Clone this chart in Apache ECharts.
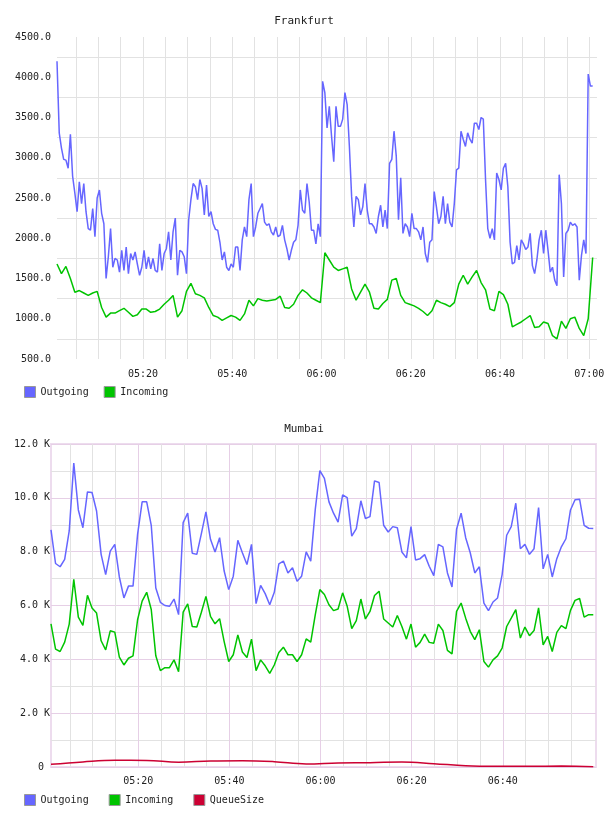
<!DOCTYPE html>
<html>
<head>
<meta charset="utf-8">
<script src="https://cdn.jsdelivr.net/npm/echarts@6/dist/echarts.min.js"></script>
<style>
  html, body { margin: 0; padding: 0; background: #fff; }
  #chart { width: 608px; height: 816px; }
</style>
</head>
<body>
<div id="chart"></div>
<script>
// x values are minutes after 05:00
const fraStart = 0.75;
const fraOutStep = 0.5;
const fraInStep = 1;

const fraOutgoing = [
  4200, 3310, 3120, 2980, 2970, 2870, 3290, 2770, 2560, 2330,
  2700, 2430, 2680, 2330, 2120, 2100, 2370, 2020, 2500, 2600,
  2310, 2180, 1500, 1770, 2120, 1640, 1750, 1730, 1580, 1850,
  1600, 1890, 1560, 1810, 1730, 1830, 1680, 1540, 1640, 1850,
  1620, 1770, 1620, 1750, 1600, 1580, 1930, 1600, 1810, 1870,
  2080, 1730, 2080, 2250, 1540, 1850, 1830, 1770, 1560, 2230,
  2480, 2680, 2640, 2480, 2730, 2620, 2290, 2660, 2270, 2330,
  2180, 2110, 2100, 1950, 1730, 1830, 1640, 1600, 1680, 1640,
  1890, 1890, 1600, 1980, 2140, 2020, 2480, 2680, 2020, 2140,
  2310, 2370, 2430, 2200, 2160, 2180, 2080, 2040, 2140, 2020,
  2040, 2160, 1980, 1870, 1730, 1850, 1950, 1980, 2160, 2600,
  2350, 2310, 2680, 2450, 2100, 2100, 1930, 2180, 2020, 3950,
  3810, 3370, 3640, 3270, 2950, 3640, 3390, 3390, 3480, 3810,
  3660, 3140, 2520, 2140, 2520, 2480, 2290, 2390, 2680, 2350,
  2180, 2180, 2140, 2060, 2270, 2410, 2140, 2350, 2120, 2930,
  2980, 3330, 3020, 2230, 2750, 2060, 2180, 2140, 2020, 2310,
  2120, 2120, 2080, 1980, 2140, 1810, 1700, 1950, 1980, 2580,
  2390, 2180, 2270, 2520, 2180, 2430, 2200, 2140, 2430, 2850,
  2870, 3330, 3230, 3140, 3310, 3230, 3180, 3430, 3430, 3350,
  3500, 3480, 2730, 2120, 2000, 2120, 1980, 2810, 2730, 2600,
  2870, 2930, 2640, 1950, 1680, 1700, 1910, 1730, 1980, 1930,
  1860, 1890, 2060, 1660, 1560, 1730, 1980, 2100, 1810, 2100,
  1850, 1580, 1640, 1480, 1410, 2790, 2430, 1520, 2060, 2100,
  2200, 2160, 2180, 2140, 1480, 1790, 1980, 1810, 4040, 3890,
  3890
];

const fraIncoming = [
  1680, 1560, 1650, 1500, 1330, 1350, 1320, 1290, 1320, 1340,
  1140, 1020, 1070, 1070, 1100, 1130, 1080, 1030, 1050, 1120,
  1120, 1080, 1090, 1120, 1180, 1230, 1290, 1020, 1100, 1340,
  1440, 1310, 1290, 1260, 1140, 1040, 1020, 980, 1010, 1040,
  1020, 980, 1060, 1230, 1160, 1250, 1230, 1220, 1230, 1240,
  1280, 1140, 1130, 1180, 1290, 1360, 1320, 1260, 1230, 1200,
  1820, 1730, 1640, 1600, 1620, 1640, 1370, 1230, 1330, 1430,
  1330, 1130, 1120, 1190, 1240, 1480, 1500, 1290, 1200, 1180,
  1160, 1130, 1090, 1040, 1100, 1230, 1200, 1180, 1150, 1200,
  1430, 1540, 1430, 1520, 1600, 1450, 1360, 1120, 1100, 1340,
  1300, 1180, 900, 930, 960, 1000, 1040, 890, 900, 960,
  940, 790, 750, 970, 880, 1000, 1020, 880, 790, 1000,
  1760
];

const fraYLabels = [500, 1000, 1500, 2000, 2500, 3000, 3500, 4000, 4500];
const fraYGrid = [750, 1250, 1750, 2250, 2750, 3250, 3750, 4250];
const fraXLabels = [20, 40, 60, 80, 100, 120];
const fraXGrid = [5, 10, 15, 20, 25, 30, 35, 40, 45, 50, 55, 60, 65, 70, 75, 80, 85, 90, 95, 100, 105, 110, 115, 120];

// Mumbai, values in K
const mumStart = 0.85;
const mumStep = 1;
const mumOutgoing = [
  8.81, 7.56, 7.44, 7.71, 8.77, 11.29, 9.55, 8.89, 10.22, 10.2,
  9.51, 7.9, 7.15, 8.02, 8.27, 7.06, 6.28, 6.72, 6.72, 8.64,
  9.85, 9.85, 8.98, 6.65, 6.12, 6.0, 5.97, 6.24, 5.66, 9.08,
  9.43, 7.94, 7.9, 8.67, 9.48, 8.46, 7.99, 8.52, 7.28, 6.59,
  7.09, 8.42, 7.96, 7.52, 8.27, 6.07, 6.75, 6.44, 6.03, 6.49,
  7.55, 7.65, 7.21, 7.4, 6.9, 7.09, 7.99, 7.65, 9.58, 11.01,
  10.72, 9.85, 9.43, 9.1, 10.11, 10.01, 8.58, 8.86, 9.89, 9.23,
  9.3, 10.63, 10.57, 8.98, 8.73, 8.93, 8.89, 7.99, 7.77, 8.93,
  7.69, 7.74, 7.89, 7.46, 7.11, 8.27, 8.18, 7.21, 6.69, 8.83,
  9.43, 8.52, 7.96, 7.21, 7.44, 6.09, 5.81, 6.13, 6.28, 7.15,
  8.61, 8.93, 9.8, 8.11, 8.27, 7.9, 8.11, 9.64, 7.36, 7.9,
  7.06, 7.74, 8.18, 8.48, 9.55, 9.93, 9.95, 8.98, 8.87, 8.86
];
const mumIncoming = [
  5.32, 4.38, 4.29, 4.64, 5.31, 6.97, 5.57, 5.26, 6.38, 5.91,
  5.72, 4.69, 4.35, 5.06, 5.01, 4.08, 3.79, 4.04, 4.13, 5.47,
  6.16, 6.49, 5.85, 4.13, 3.58, 3.69, 3.69, 3.98, 3.54, 5.75,
  6.06, 5.22, 5.2, 5.75, 6.34, 5.6, 5.32, 5.51, 4.66, 3.92,
  4.17, 4.91, 4.27, 4.07, 4.75, 3.58, 3.98, 3.76, 3.48, 3.79,
  4.25, 4.45, 4.17, 4.17, 3.92, 4.17, 4.76, 4.64, 5.66, 6.59,
  6.41, 6.03, 5.81, 5.87, 6.47, 5.97, 5.14, 5.44, 6.24, 5.5,
  5.78, 6.37, 6.53, 5.5, 5.35, 5.2, 5.63, 5.22, 4.75, 5.31,
  4.45, 4.63, 4.94, 4.63, 4.6, 5.31, 5.07, 4.33, 4.2, 5.78,
  6.09, 5.53, 5.04, 4.73, 5.1, 3.92, 3.71, 3.98, 4.13, 4.42,
  5.22, 5.53, 5.85, 4.79, 5.2, 4.88, 5.07, 5.91, 4.54, 4.85,
  4.29, 5.0, 5.25, 5.14, 5.82, 6.19, 6.26, 5.57, 5.66, 5.66
];
const mumQueueStep = 7;
const mumQueue = [
  0.10, 0.19, 0.249, 0.245, 0.178, 0.225, 0.235, 0.197, 0.112,
  0.15, 0.16, 0.185, 0.125, 0.05, 0.028, 0.026, 0.035, 0.012
];

const mumYLabels = [0, 2, 4, 6, 8, 10, 12];
const mumYGrid = [0, 1, 2, 3, 4, 5, 6, 7, 8, 9, 10, 11, 12];
const mumXLabels = [20, 40, 60, 80, 100];
const mumXGrid = [5, 10, 15, 20, 25, 30, 35, 40, 45, 50, 55, 60, 65, 70, 75, 80, 85, 90, 95, 100, 105, 110, 115];

const font = 'DejaVu Sans Mono';
const textColor = '#222';
const blue = '#6666ff';
const green = '#00c400';
const red = '#cc0033';
const gray = '#e2e2e2';
const pink = '#e6cfe6';

const pad = n => (n < 10 ? '0' : '') + n;
const hhmm = t => {
  const m = Math.round(t);
  return pad(5 + Math.floor(m / 60)) + ':' + pad(m % 60);
};
const toPairs = (values, start, step) => values.map((v, i) => [start + step * i, v]);

const labelStyle = { fontFamily: font, fontSize: 10, color: textColor };

const chart = echarts.init(document.getElementById('chart'));

chart.setOption({
  animation: false,
  title: [
    { text: 'Frankfurt', left: 'center', top: 11, textStyle: { fontFamily: font, fontSize: 11, fontWeight: 'normal', color: textColor } },
    { text: 'Mumbai', left: 'center', top: 419, textStyle: { fontFamily: font, fontSize: 11, fontWeight: 'normal', color: textColor } }
  ],
  legend: [
    {
      data: ['Outgoing', 'Incoming'],
      left: 24, top: 386, padding: 0,
      icon: 'rect', itemWidth: 11, itemHeight: 11, itemGap: 15,
      itemStyle: { borderColor: '#999', borderWidth: 1 },
      textStyle: labelStyle
    },
    {
      data: ['Outgoing', 'Incoming', 'QueueSize'],
      left: 24, top: 794, padding: 0,
      icon: 'rect', itemWidth: 11, itemHeight: 11, itemGap: 20,
      itemStyle: { borderColor: '#999', borderWidth: 1 },
      textStyle: labelStyle
    }
  ],
  grid: [
    { left: 57, right: 11, top: 37, bottom: 457 },
    { left: 51, right: 12, top: 444, bottom: 49, show: true, borderColor: '#eddcee', borderWidth: 2 }
  ],
  xAxis: [
    {
      type: 'value', gridIndex: 0, min: fraStart, max: 121.72,
      axisLine: { show: false },
      axisTick: { show: false, customValues: fraXGrid },
      splitLine: { show: true, lineStyle: { color: gray, width: 1 } },
      axisLabel: { ...labelStyle, margin: 10, customValues: fraXLabels, formatter: hhmm }
    },
    {
      type: 'value', gridIndex: 1, min: mumStart, max: 120.45,
      axisLine: { show: false },
      axisTick: { show: false, customValues: mumXGrid },
      splitLine: { show: true, lineStyle: { color: [gray, gray, gray, pink], width: 1 } },
      axisLabel: { ...labelStyle, margin: 9, customValues: mumXLabels, formatter: hhmm }
    }
  ],
  yAxis: [
    {
      type: 'value', gridIndex: 0, min: 500, max: 4500,
      axisLine: { show: false },
      axisTick: { show: false, customValues: fraYGrid },
      splitLine: { show: true, lineStyle: { color: gray, width: 1 } },
      axisLabel: { ...labelStyle, margin: 6, customValues: fraYLabels, formatter: v => v.toFixed(1) }
    },
    {
      type: 'value', gridIndex: 1, min: 0, max: 12,
      axisLine: { show: false },
      axisTick: { show: false, customValues: mumYGrid },
      splitLine: { show: true, lineStyle: { color: [pink, gray], width: 1 } },
      axisLabel: { ...labelStyle, margin: 1, customValues: mumYLabels, formatter: v => (v === 0 ? '0 ' : v.toFixed(1) + ' K') }
    }
  ],
  series: [
    {
      name: 'Outgoing', type: 'line', xAxisIndex: 0, yAxisIndex: 0,
      data: toPairs(fraOutgoing, fraStart, fraOutStep),
      symbol: 'none', itemStyle: { color: blue }, lineStyle: { color: blue, width: 1.5 }
    },
    {
      name: 'Incoming', type: 'line', xAxisIndex: 0, yAxisIndex: 0,
      data: toPairs(fraIncoming, fraStart, fraInStep),
      symbol: 'none', itemStyle: { color: green }, lineStyle: { color: green, width: 1.5 }
    },
    {
      name: 'Outgoing', type: 'line', xAxisIndex: 1, yAxisIndex: 1,
      data: toPairs(mumOutgoing, mumStart, mumStep),
      symbol: 'none', itemStyle: { color: blue }, lineStyle: { color: blue, width: 1.5 }
    },
    {
      name: 'Incoming', type: 'line', xAxisIndex: 1, yAxisIndex: 1,
      data: toPairs(mumIncoming, mumStart, mumStep),
      symbol: 'none', itemStyle: { color: green }, lineStyle: { color: green, width: 1.5 }
    },
    {
      name: 'QueueSize', type: 'line', xAxisIndex: 1, yAxisIndex: 1,
      data: toPairs(mumQueue, mumStart, mumQueueStep),
      smooth: 0.4, symbol: 'none', itemStyle: { color: red }, lineStyle: { color: red, width: 1.5 }
    }
  ]
});
</script>
</body>
</html>
